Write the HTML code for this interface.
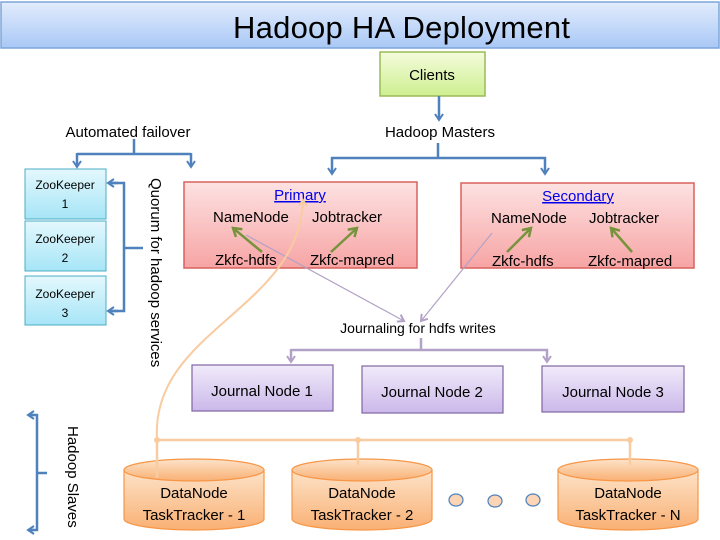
<!DOCTYPE html>
<html><head><meta charset="utf-8"><style>
html,body{margin:0;padding:0;background:#fff;}
svg{display:block;font-family:"Liberation Sans",sans-serif;}
</style></head><body>
<svg width="720" height="540" viewBox="0 0 720 540">
<defs>
<linearGradient id="gT" x1="0" y1="0" x2="0" y2="1"><stop offset="0" stop-color="#e2ecfc"/><stop offset="1" stop-color="#a9c8f6"/></linearGradient>
<linearGradient id="gC" x1="0" y1="0" x2="0" y2="1"><stop offset="0" stop-color="#f4fcdc"/><stop offset="1" stop-color="#cdef90"/></linearGradient>
<linearGradient id="gZ" x1="0" y1="0" x2="0" y2="1"><stop offset="0" stop-color="#e4f8fd"/><stop offset="1" stop-color="#a6e5f7"/></linearGradient>
<linearGradient id="gP" x1="0" y1="0" x2="0" y2="1"><stop offset="0" stop-color="#fde2e2"/><stop offset="1" stop-color="#f7a4a4"/></linearGradient>
<linearGradient id="gJ" x1="0" y1="0" x2="0" y2="1"><stop offset="0" stop-color="#f1ebfa"/><stop offset="1" stop-color="#cbb8ea"/></linearGradient>
<linearGradient id="gD" x1="0" y1="0" x2="0" y2="1"><stop offset="0" stop-color="#fde3c9"/><stop offset="1" stop-color="#f9b074"/></linearGradient>
<marker id="aB" markerWidth="10" markerHeight="10" refX="7" refY="5" orient="auto" markerUnits="userSpaceOnUse"><path d="M1,1 L7,5 L1,9" fill="none" stroke="#4f81bd" stroke-width="2"/></marker>
<marker id="aP" markerWidth="10" markerHeight="10" refX="7" refY="5" orient="auto" markerUnits="userSpaceOnUse"><path d="M1,1 L7,5 L1,9" fill="none" stroke="#b3a2c7" stroke-width="2"/></marker>
<marker id="aG" markerWidth="12" markerHeight="12" refX="9" refY="6" orient="auto" markerUnits="userSpaceOnUse"><path d="M1,1 L9,6 L1,11" fill="none" stroke="#77933c" stroke-width="2.5"/></marker>
<marker id="aO" markerWidth="10" markerHeight="10" refX="7" refY="5" orient="auto" markerUnits="userSpaceOnUse"><path d="M1,1 L7,5 L1,9" fill="none" stroke="#f8cba0" stroke-width="2"/></marker>
</defs>

<rect x="1" y="2" width="718" height="46" fill="url(#gT)" stroke="#7ea6d8" stroke-width="1.5"/>
<text x="233" y="38" font-size="31" textLength="337" fill="#000">Hadoop HA Deployment</text>

<rect x="380" y="52" width="105" height="44" fill="url(#gC)" stroke="#9bbb59" stroke-width="1.5"/>
<text x="432" y="80" font-size="15" text-anchor="middle">Clients</text>
<line x1="439" y1="96" x2="439" y2="120" stroke="#4f81bd" stroke-width="2.5" marker-end="url(#aB)"/>
<text x="440" y="137" font-size="15" text-anchor="middle">Hadoop Masters</text>
<path d="M438,143 V158 M331,158 H546" stroke="#4f81bd" stroke-width="2.5" fill="none"/>
<line x1="332" y1="157" x2="332" y2="174" stroke="#4f81bd" stroke-width="2.5" marker-end="url(#aB)"/>
<line x1="545" y1="157" x2="545" y2="174" stroke="#4f81bd" stroke-width="2.5" marker-end="url(#aB)"/>

<text x="128" y="137" font-size="15" text-anchor="middle">Automated failover</text>
<path d="M134,139 V154 M77,154 H191" stroke="#4f81bd" stroke-width="2.5" fill="none"/>
<line x1="77" y1="153" x2="77" y2="167" stroke="#4f81bd" stroke-width="2.5" marker-end="url(#aB)"/>
<line x1="191" y1="153" x2="191" y2="167" stroke="#4f81bd" stroke-width="2.5" marker-end="url(#aB)"/>

<g font-size="12" text-anchor="middle">
<rect x="25" y="169" width="81" height="50" fill="url(#gZ)" stroke="#4bacc6"/>
<text x="65" y="189">ZooKeeper</text><text x="65" y="208">1</text>
<rect x="25" y="221" width="81" height="50" fill="url(#gZ)" stroke="#4bacc6"/>
<text x="65" y="243">ZooKeeper</text><text x="65" y="262">2</text>
<rect x="25" y="276" width="81" height="49" fill="url(#gZ)" stroke="#4bacc6"/>
<text x="65" y="298">ZooKeeper</text><text x="65" y="317">3</text>
</g>
<path d="M109,183 H124 V311 H109 M124,248 H143" stroke="#4f81bd" stroke-width="2.5" fill="none"/>
<line x1="118" y1="183" x2="108" y2="183" stroke="#4f81bd" stroke-width="2.5" marker-end="url(#aB)"/>
<line x1="118" y1="311" x2="108" y2="311" stroke="#4f81bd" stroke-width="2.5" marker-end="url(#aB)"/>
<text transform="translate(151,178) rotate(90)" font-size="15">Quorum for hadoop services</text>

<rect x="184" y="182" width="233" height="86" fill="url(#gP)" stroke="#d9625f" stroke-width="1.5"/>
<rect x="461" y="183" width="233" height="85" fill="url(#gP)" stroke="#d9625f" stroke-width="1.5"/>
<g font-size="15">
<text x="300" y="200" text-anchor="middle" fill="#0000ee" text-decoration="underline">Primary</text>
<text x="213" y="222">NameNode</text><text x="312" y="222">Jobtracker</text>
<text x="215" y="265">Zkfc-hdfs</text><text x="310" y="265">Zkfc-mapred</text>
<text x="578" y="201" text-anchor="middle" fill="#0000ee" text-decoration="underline">Secondary</text>
<text x="491" y="223">NameNode</text><text x="589" y="223">Jobtracker</text>
<text x="492" y="266">Zkfc-hdfs</text><text x="588" y="266">Zkfc-mapred</text>
</g>
<g stroke="#77933c" stroke-width="2.5" marker-end="url(#aG)">
<line x1="262" y1="252" x2="233" y2="228"/>
<line x1="331" y1="252" x2="357" y2="228"/>
<line x1="507" y1="252" x2="531" y2="228"/>
<line x1="632" y1="252" x2="611" y2="228"/>
</g>
<line x1="246" y1="235" x2="404" y2="321" stroke="#b3a2c7" stroke-width="1.2" marker-end="url(#aP)"/>
<line x1="492" y1="233" x2="421" y2="321" stroke="#b3a2c7" stroke-width="1.2" marker-end="url(#aP)"/>

<text x="418" y="333" font-size="14" text-anchor="middle">Journaling for hdfs writes</text>
<path d="M421,338 V350 M291,350 H548" stroke="#b3a2c7" stroke-width="2.5" fill="none"/>
<line x1="291" y1="349" x2="291" y2="362" stroke="#b3a2c7" stroke-width="2.5" marker-end="url(#aP)"/>
<line x1="547" y1="349" x2="547" y2="362" stroke="#b3a2c7" stroke-width="2.5" marker-end="url(#aP)"/>

<g font-size="15" text-anchor="middle">
<rect x="192" y="365" width="141" height="46" fill="url(#gJ)" stroke="#8064a2" stroke-width="1.2"/>
<text x="262" y="396">Journal Node 1</text>
<rect x="362" y="366" width="141" height="47" fill="url(#gJ)" stroke="#8064a2" stroke-width="1.2"/>
<text x="432" y="397">Journal Node 2</text>
<rect x="542" y="366" width="142" height="46" fill="url(#gJ)" stroke="#8064a2" stroke-width="1.2"/>
<text x="613" y="397">Journal Node 3</text>
</g>

<path d="M157,440 C150,330 300,310 303,200" stroke="#f8cba0" stroke-width="2" fill="none" marker-end="url(#aO)"/>

<g stroke="#f79646" stroke-width="1.2" fill="url(#gD)">
<path d="M124,470 V519 A70,11 0 0 0 264,519 V470 Z"/><ellipse cx="194" cy="470" rx="70" ry="11"/>
<path d="M292,470 V519 A70,11 0 0 0 432,519 V470 Z"/><ellipse cx="362" cy="470" rx="70" ry="11"/>
<path d="M558,470 V519 A70,11 0 0 0 698,519 V470 Z"/><ellipse cx="628" cy="470" rx="70" ry="11"/>
</g>
<g stroke="#f8cba0" stroke-width="2.5" fill="none">
<path d="M157,440 H630 M157,440 V478 M358,440 V465 M630,440 V465"/>
</g>
<g fill="#f8cba0"><circle cx="157" cy="440" r="3"/><circle cx="358" cy="440" r="3"/><circle cx="630" cy="440" r="3"/></g>
<g font-size="15" text-anchor="middle">
<text x="194" y="498">DataNode</text><text x="194" y="520">TaskTracker - 1</text>
<text x="362" y="498">DataNode</text><text x="362" y="520">TaskTracker - 2</text>
<text x="628" y="498">DataNode</text><text x="628" y="520">TaskTracker - N</text>
</g>
<g fill="#fbd5b5" stroke="#4f81bd" stroke-width="1.2">
<ellipse cx="456" cy="500" rx="7" ry="6"/><ellipse cx="495" cy="501" rx="7" ry="6"/><ellipse cx="533" cy="500" rx="7" ry="6"/>
</g>

<path d="M30,415 H37 V530 H30 M37,473 H47" stroke="#4f81bd" stroke-width="2.5" fill="none"/>
<line x1="34" y1="415" x2="28" y2="415" stroke="#4f81bd" stroke-width="2.5" marker-end="url(#aB)"/>
<line x1="34" y1="530" x2="28" y2="530" stroke="#4f81bd" stroke-width="2.5" marker-end="url(#aB)"/>
<text transform="translate(68,426) rotate(90)" font-size="15">Hadoop Slaves</text>
</svg>
</body></html>
